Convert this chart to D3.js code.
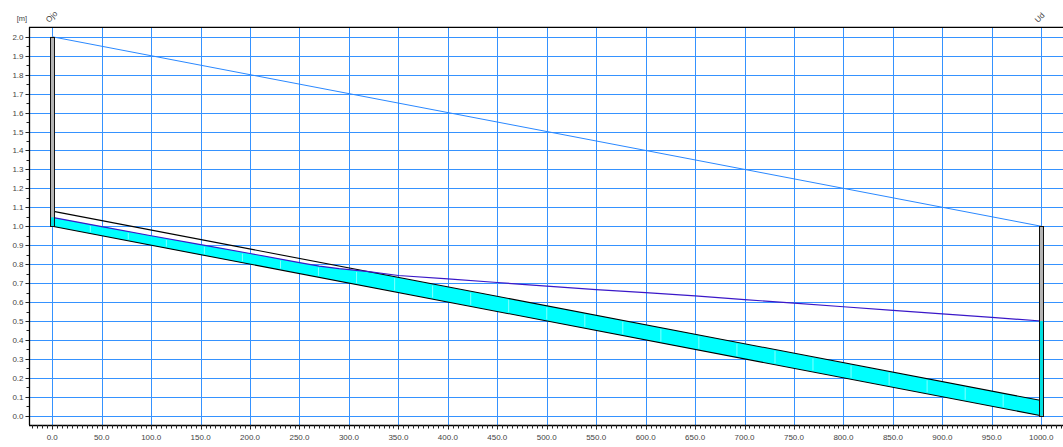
<!DOCTYPE html>
<html>
<head>
<meta charset="utf-8">
<script src="https://cdn.jsdelivr.net/npm/d3@7"></script>
<style>
  html, body { margin: 0; padding: 0; background: #fff; }
  svg { display: block; }
  text { font-family: "Liberation Sans", Arial, sans-serif; }
</style>
</head>
<body>
<div id="chart"></div>
<script>
// Longitudinal profile: pipe Ojo -> Ud
const hglStations = [0, 50, 100, 150, 200, 250, 270, 290, 320, 350, 400, 450, 500, 550, 600, 650, 700, 750, 800, 850, 900, 950, 1000];
const hglLevels   = [1.047, 0.998, 0.950, 0.903, 0.856, 0.808, 0.790, 0.776, 0.760, 0.740, 0.722, 0.703, 0.684, 0.666, 0.650, 0.632, 0.613, 0.594, 0.575, 0.556, 0.538, 0.519, 0.500];

const pipeStations = [0, 1000];
const pipeInvert   = [1.00, 0.00];
const pipeCrown    = [1.08, 0.08];

const groundStations = [0, 1000];
const groundLevels   = [2.0, 1.0];

const nodeNames    = ["Ojo", "Ud"];
const nodeStations = [0, 1000];
const nodeBottoms  = [1.0, 0.0];
const nodeTops     = [2.0, 1.0];
const nodeWater    = [1.047, 0.5];

// computation section boundaries along the pipe
const sectionMarks = [38.5, 76.9, 115.4, 153.8, 192.3, 230.8, 269.2, 307.7, 346.2, 384.6, 423.1, 461.5, 500.0,
                      538.5, 576.9, 615.4, 653.8, 692.3, 730.8, 769.2, 807.7, 846.2, 884.6, 923.1, 961.5];

const xTicks = [0, 50, 100, 150, 200, 250, 300, 350, 400, 450, 500, 550, 600, 650, 700, 750, 800, 850, 900, 950, 1000];
const yTicks = [0.0, 0.1, 0.2, 0.3, 0.4, 0.5, 0.6, 0.7, 0.8, 0.9, 1.0, 1.1, 1.2, 1.3, 1.4, 1.5, 1.6, 1.7, 1.8, 1.9, 2.0];

const W = 1063, H = 447;
const padL = 29, padR = 1063, padT = 27.3, padB = 425;

const x = d3.scaleLinear().domain([-23.5, 1022]).range([padL, padR]);
const y = d3.scaleLinear().domain([-0.049, 2.05]).range([padB, padT]);

const svg = d3.select("#chart").append("svg").attr("width", W).attr("height", H);

const gridColor = "#3592ff";
const fmt = d3.format(".1f");

// grid
const grid = svg.append("g");
grid.selectAll("line.v").data(xTicks).join("line")
  .attr("x1", d => Math.round(x(d)) + 0.5).attr("x2", d => Math.round(x(d)) + 0.5)
  .attr("y1", padT).attr("y2", padB)
  .attr("stroke", gridColor).attr("stroke-width", 1);
grid.selectAll("line.h").data(yTicks).join("line")
  .attr("y1", d => Math.round(y(d)) + 0.5).attr("y2", d => Math.round(y(d)) + 0.5)
  .attr("x1", padL).attr("x2", padR)
  .attr("stroke", gridColor).attr("stroke-width", 1);

// ground line
const groundLine = d3.line().x(d => x(d[0])).y(d => y(d[1]));
svg.append("path")
  .attr("d", groundLine(d3.zip(groundStations, groundLevels)))
  .attr("fill", "none").attr("stroke", "#2a88ff").attr("stroke-width", 1);

// interpolators
const invertAt = d3.scaleLinear().domain(pipeStations).range(pipeInvert);
const crownAt  = d3.scaleLinear().domain(pipeStations).range(pipeCrown);
const hglAt    = d3.scaleLinear().domain(hglStations).range(hglLevels);

// water area: up to the HGL, capped by the pipe crown
const pts = [];
for (let i = 0; i < hglStations.length; i++) {
  const s = hglStations[i];
  pts.push(s);
  if (i < hglStations.length - 1) {
    const s2 = hglStations[i + 1];
    const d1 = hglAt(s) - crownAt(s), d2 = hglAt(s2) - crownAt(s2);
    if (d1 * d2 < 0) pts.push(s + (s2 - s) * d1 / (d1 - d2));
  }
}
const waterTop = s => Math.min(hglAt(s), crownAt(s));
const area = d3.area().x(s => x(s)).y0(s => y(invertAt(s))).y1(s => y(waterTop(s)));
svg.append("path").attr("d", area(pts)).attr("fill", "#00ffff").attr("stroke", "none");

// section boundaries
svg.append("g").selectAll("line").data(sectionMarks).join("line")
  .attr("x1", d => x(d)).attr("x2", d => x(d))
  .attr("y1", d => y(invertAt(d)) - 1.5).attr("y2", d => y(waterTop(d)) + 1.5)
  .attr("stroke", "#ffffff").attr("stroke-opacity", 0.5).attr("stroke-width", 1);

// pipe invert and crown
const pipeLine = d3.line().x(d => x(d[0])).y(d => y(d[1]));
svg.append("path").attr("d", pipeLine(d3.zip(pipeStations, pipeInvert)))
  .attr("fill", "none").attr("stroke", "#000").attr("stroke-width", 1.1);
svg.append("path").attr("d", pipeLine(d3.zip(pipeStations, pipeCrown)))
  .attr("fill", "none").attr("stroke", "#000").attr("stroke-width", 1.1);

// hydraulic grade line
svg.append("path").attr("d", pipeLine(d3.zip(hglStations, hglLevels)))
  .attr("fill", "none").attr("stroke", "#3a18c8").attr("stroke-width", 1.2);

// manholes
const nodes = nodeNames.map((n, i) => ({ name: n, s: nodeStations[i], b: nodeBottoms[i], t: nodeTops[i], w: nodeWater[i] }));
const ng = svg.append("g");
nodes.forEach(n => {
  const cx = Math.round(x(n.s));
  ng.append("rect")
    .attr("x", cx - 1.5).attr("width", 3.5)
    .attr("y", y(n.t)).attr("height", y(n.b) - y(n.t))
    .attr("fill", "#b4b4b4");
  ng.append("rect")
    .attr("x", cx - 1.5).attr("width", 3.5)
    .attr("y", y(n.w)).attr("height", y(n.b) - y(n.w))
    .attr("fill", "#00e0e0");
  ng.append("rect")
    .attr("x", cx - 1.5).attr("width", 4)
    .attr("y", Math.round(y(n.t)) + 0.5).attr("height", Math.round(y(n.b)) - Math.round(y(n.t)))
    .attr("fill", "none").attr("stroke", "#111").attr("stroke-width", 1);
  ng.append("text")
    .attr("transform", `translate(${cx - 3},23) rotate(-45)`)
    .attr("font-size", 8).attr("fill", "#444")
    .text(n.name);
});

// axes frame
svg.append("line").attr("x1", padL).attr("x2", padR).attr("y1", padT).attr("y2", padT)
  .attr("stroke", "#000").attr("stroke-width", 1.3);
svg.append("line").attr("x1", padL + 0.5).attr("x2", padL + 0.5).attr("y1", padT).attr("y2", padB)
  .attr("stroke", "#000").attr("stroke-width", 1.3);
svg.append("line").attr("x1", padL).attr("x2", padR).attr("y1", padB + 0.5).attr("y2", padB + 0.5)
  .attr("stroke", "#000").attr("stroke-width", 1.3);

// y axis ticks and labels
const yMinor = d3.range(-0.05, 2.06, 0.05).filter(v => v > -0.049 && v < 2.05);
svg.append("g").selectAll("line").data(yMinor).join("line")
  .attr("x1", padL - 2.5).attr("x2", padL)
  .attr("y1", d => Math.round(y(d)) + 0.5).attr("y2", d => Math.round(y(d)) + 0.5)
  .attr("stroke", "#222").attr("stroke-width", 1);
svg.append("g").selectAll("line").data(yTicks).join("line")
  .attr("x1", padL - 3.5).attr("x2", padL)
  .attr("y1", d => Math.round(y(d)) + 0.5).attr("y2", d => Math.round(y(d)) + 0.5)
  .attr("stroke", "#222").attr("stroke-width", 1);
svg.append("g").selectAll("text").data(yTicks).join("text")
  .attr("x", 23.5).attr("y", d => y(d) + 3)
  .attr("text-anchor", "end").attr("font-size", 8).attr("fill", "#444")
  .text(d => fmt(d));
svg.append("text").attr("x", 22).attr("y", 21).attr("text-anchor", "middle")
  .attr("font-size", 7.5).attr("fill", "#444").text("[m]");

// x axis ticks and labels
const xMinor = d3.range(-20, 1021, 5);
svg.append("g").selectAll("line").data(xMinor).join("line")
  .attr("x1", d => Math.round(x(d)) + 0.5).attr("x2", d => Math.round(x(d)) + 0.5)
  .attr("y1", padB).attr("y2", padB + 3.5)
  .attr("stroke", "#222").attr("stroke-width", 1);
svg.append("g").selectAll("line").data(xTicks).join("line")
  .attr("x1", d => Math.round(x(d)) + 0.5).attr("x2", d => Math.round(x(d)) + 0.5)
  .attr("y1", padB).attr("y2", padB + 4.5)
  .attr("stroke", "#222").attr("stroke-width", 1);
svg.append("g").selectAll("text").data(xTicks).join("text")
  .attr("x", d => x(d)).attr("y", 439.5)
  .attr("text-anchor", "middle").attr("font-size", 8).attr("fill", "#444")
  .text(d => fmt(d));
svg.append("text").attr("x", 1059).attr("y", 452.5).attr("text-anchor", "start")
  .attr("font-size", 8).attr("fill", "#444").text("[m]");
</script>
</body>
</html>
